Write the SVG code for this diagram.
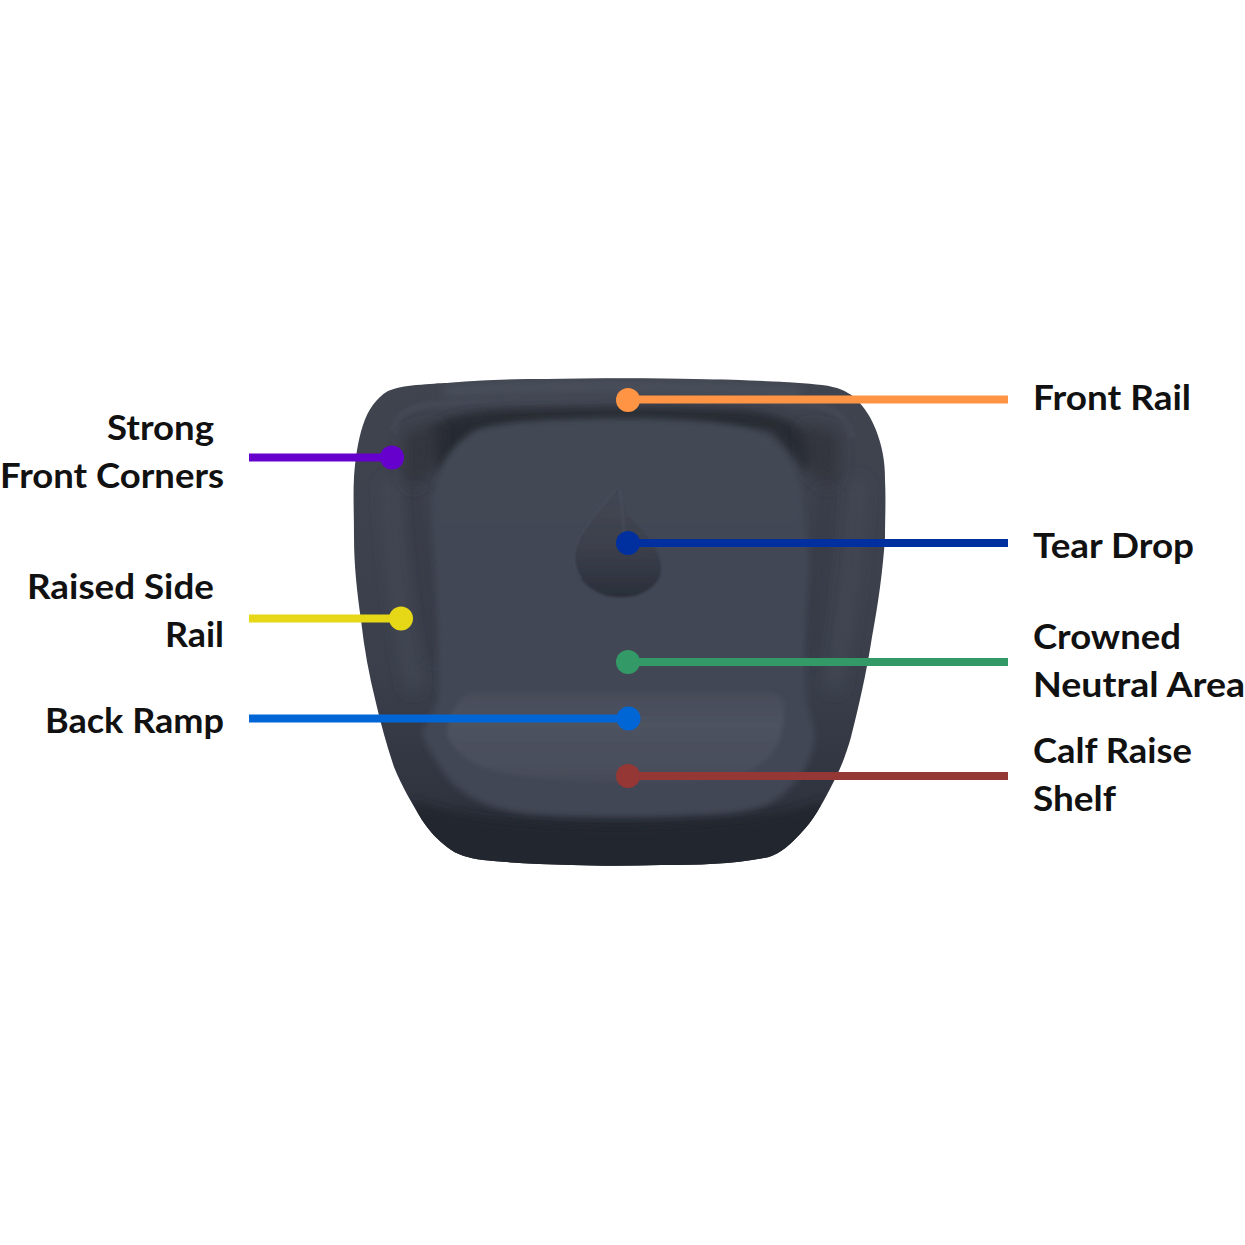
<svg xmlns="http://www.w3.org/2000/svg" width="1245" height="1245" viewBox="0 0 1245 1245">
<style>
.t{font-family:"Lato","Noto Sans","Liberation Sans",sans-serif;font-weight:700;font-size:34px;fill:#111}
.c{fill:none;stroke-width:8}
</style>
<defs>
<linearGradient id="body" x1="0" y1="0" x2="0" y2="1">
<stop offset="0" stop-color="#40444f"/><stop offset=".6" stop-color="#3a3f4b"/><stop offset=".86" stop-color="#30343f"/><stop offset=".93" stop-color="#23272f"/><stop offset="1" stop-color="#232731"/>
</linearGradient>
<linearGradient id="plat" x1="0" y1="0" x2="0" y2="1">
<stop offset="0" stop-color="#434855"/><stop offset="1" stop-color="#424754"/>
</linearGradient>
<linearGradient id="drop" x1="0" y1="0" x2="0" y2="1">
<stop offset="0" stop-color="#424753"/><stop offset=".5" stop-color="#3d414d"/><stop offset=".82" stop-color="#323642"/><stop offset="1" stop-color="#2a2e38"/>
</linearGradient>
<linearGradient id="ramp" x1="0" y1="0" x2="0" y2="1">
<stop offset="0" stop-color="#474c59"/><stop offset=".35" stop-color="#4d525f"/><stop offset=".8" stop-color="#4a4f5c"/><stop offset="1" stop-color="#464b58"/>
</linearGradient>
<filter id="b8" filterUnits="userSpaceOnUse" x="300" y="340" width="640" height="560"><feGaussianBlur stdDeviation="8"/></filter>
<filter id="b4" filterUnits="userSpaceOnUse" x="300" y="340" width="640" height="560"><feGaussianBlur stdDeviation="5"/></filter>
<filter id="b2" filterUnits="userSpaceOnUse" x="300" y="340" width="640" height="560"><feGaussianBlur stdDeviation="2"/></filter>
<filter id="b3" filterUnits="userSpaceOnUse" x="300" y="340" width="640" height="560"><feGaussianBlur stdDeviation="3"/></filter>
<filter id="b1" filterUnits="userSpaceOnUse" x="300" y="340" width="640" height="560"><feGaussianBlur stdDeviation="1"/></filter>
<clipPath id="bodyclip"><path d="M547 379C600 378 650 378 694 379C750 380 795 382 822 385C838 387 846 391 854 397C866 408 872 420 876 430C882 446 885 460 885 480C886 500 885 520 885 537C883 570 878 605 872 637C866 675 859 705 851 737C846 755 840 770 833 783C822 805 812 822 801 833C790 845 781 853 769 857C735 864 700 865 661 865C630 866 600 866 572 865C540 864 510 863 483 860C468 858 457 855 447 847C438 840 430 832 422 820C412 803 402 787 394 767C387 746 381 725 376 703C369 675 364 648 361 620C357 592 354 565 354 537C354 515 353 495 354 477C355 460 358 440 363 425C368 410 376 398 388 391C395 388 405 386 416 385C430 384 440 383 447 383C480 380 515 379 547 379Z"/></clipPath>
</defs>
<rect width="1245" height="1245" fill="#ffffff"/>
<g id="pad">
<path d="M547 379C600 378 650 378 694 379C750 380 795 382 822 385C838 387 846 391 854 397C866 408 872 420 876 430C882 446 885 460 885 480C886 500 885 520 885 537C883 570 878 605 872 637C866 675 859 705 851 737C846 755 840 770 833 783C822 805 812 822 801 833C790 845 781 853 769 857C735 864 700 865 661 865C630 866 600 866 572 865C540 864 510 863 483 860C468 858 457 855 447 847C438 840 430 832 422 820C412 803 402 787 394 767C387 746 381 725 376 703C369 675 364 648 361 620C357 592 354 565 354 537C354 515 353 495 354 477C355 460 358 440 363 425C368 410 376 398 388 391C395 388 405 386 416 385C430 384 440 383 447 383C480 380 515 379 547 379Z" fill="url(#body)"/>
<g clip-path="url(#bodyclip)">
<path d="M445 391C520 385 720 385 800 393" fill="none" stroke="#4a4f5c" stroke-width="12" filter="url(#b4)"/>
<path d="M393 432C396 416 406 409 425 405C500 399 740 399 815 405C836 409 848 420 853 438" fill="none" stroke="#474c59" stroke-width="4" filter="url(#b2)"/>
<path d="M430 428C445 416 470 412 500 410C580 407 680 407 740 410C770 412 795 420 815 440C818 455 815 465 806 470L770 430L480 430L440 470C428 465 424 440 430 428Z" fill="#262a33" filter="url(#b4)"/>
<path d="M408 430C400 445 402 470 410 490L436 470L440 425Z" fill="#30343e" filter="url(#b8)"/>
<path d="M835 430C842 445 840 470 832 490L806 470L802 425Z" fill="#30343e" filter="url(#b8)"/>
<path d="M414 490C416 540 428 600 436 660" fill="none" stroke="#353944" stroke-width="12" filter="url(#b8)"/>
<path d="M826 490C824 540 815 600 808 660" fill="none" stroke="#353944" stroke-width="12" filter="url(#b8)"/>
<path d="M390 480C392 540 400 620 415 690" fill="none" stroke="#444955" stroke-width="12" filter="url(#b8)"/>
<path d="M858 480C856 540 846 620 833 690" fill="none" stroke="#444955" stroke-width="12" filter="url(#b8)"/>
<path d="M415 800C470 835 770 835 822 800L840 880L400 880Z" fill="#22262e" filter="url(#b4)"/>
</g>
<path d="M626 418C665 418 700 420 733 425C752 429 766 434 776 443C788 455 796 468 799 480C803 505 808 540 808 570C805 620 803 670 806 700C810 715 814 725 815 737C812 755 806 770 797 780C786 793 775 802 761 807C740 813 720 815 697 815C670 817 650 817 626 817C596 817 568 817 540 815C520 814 500 810 483 803C468 796 456 788 447 777C436 762 428 748 422 733C426 722 434 712 438 700C440 660 437 610 436 570C435 545 432 525 433 503C434 488 438 474 444 463C451 450 461 440 472 433C486 427 502 424 519 422C555 419 590 418 626 418Z" fill="url(#plat)" filter="url(#b3)"/>
<path d="M476 692L765 692C776 693 781 697 784 703C785 720 782 740 772 753C765 762 755 769 743 773C710 780 665 782 626 782C585 782 540 779 504 773C488 770 475 765 465 757C456 750 449 742 447 733C448 720 452 712 458 703C462 697 468 693 476 692Z" fill="url(#ramp)" filter="url(#b2)"/>
<path d="M618 487C622 490 624 505 626 512C640 528 650 538 657 552C664 568 662 578 652 587C642 595 630 598 618 597C604 597 590 590 581 579C572 566 572 552 578 540C586 524 604 504 618 487Z" fill="url(#drop)" filter="url(#b1)"/>
<path d="M619 488C622 500 623 520 624 535" fill="none" stroke="#4b505d" stroke-width="1.500" filter="url(#b1)"/>
<path d="M615 490C604 504 586 524 578 540C573 552 572 566 581 579" fill="none" stroke="#494e5b" stroke-width="1.500" filter="url(#b1)"/>
</g>
<g id="connectors">
<path class="c" stroke="#6600cc" d="M249 457.500H392"/>
<path class="c" stroke="#e6d817" d="M249 618.500H401"/>
<path class="c" stroke="#0066d6" d="M249 718.500H628"/>
<path class="c" stroke="#ff9544" d="M628 399.500H1008"/>
<path class="c" stroke="#002fa0" d="M628 543H1008"/>
<path class="c" stroke="#339966" d="M628 662H1008"/>
<path class="c" stroke="#953735" d="M628 776H1008"/>
</g>
<g id="strong-front-corners"><circle cx="392" cy="457.500" r="12" fill="#6600cc"/>
<text class="t" x="214" y="440" text-anchor="end" textLength="107" lengthAdjust="spacingAndGlyphs">Strong</text>
<text class="t" x="224" y="488" text-anchor="end" textLength="224" lengthAdjust="spacingAndGlyphs">Front Corners</text></g>
<g id="raised-side-rail"><circle cx="401" cy="618.500" r="12" fill="#e6d817"/>
<text class="t" x="214" y="599" text-anchor="end" textLength="187" lengthAdjust="spacingAndGlyphs">Raised Side</text>
<text class="t" x="224" y="647" text-anchor="end" textLength="59" lengthAdjust="spacingAndGlyphs">Rail</text></g>
<g id="back-ramp"><circle cx="628.500" cy="718.500" r="12" fill="#0066d6"/>
<text class="t" x="224" y="733" text-anchor="end" textLength="179" lengthAdjust="spacingAndGlyphs">Back Ramp</text></g>
<g id="front-rail"><circle cx="628" cy="400" r="12" fill="#ff9544"/>
<text class="t" x="1033" y="410" textLength="158" lengthAdjust="spacingAndGlyphs">Front Rail</text></g>
<g id="tear-drop"><circle cx="628" cy="543" r="12" fill="#002fa0"/>
<text class="t" x="1033" y="558" textLength="161" lengthAdjust="spacingAndGlyphs">Tear Drop</text></g>
<g id="crowned-neutral-area"><circle cx="628" cy="662" r="12" fill="#339966"/>
<text class="t" x="1033" y="649" textLength="148" lengthAdjust="spacingAndGlyphs">Crowned</text>
<text class="t" x="1033" y="697" textLength="212" lengthAdjust="spacingAndGlyphs">Neutral Area</text></g>
<g id="calf-raise-shelf"><circle cx="628" cy="776" r="12" fill="#953735"/>
<text class="t" x="1033" y="763" textLength="159" lengthAdjust="spacingAndGlyphs">Calf Raise</text>
<text class="t" x="1033" y="811" textLength="83" lengthAdjust="spacingAndGlyphs">Shelf</text></g>
</svg>
